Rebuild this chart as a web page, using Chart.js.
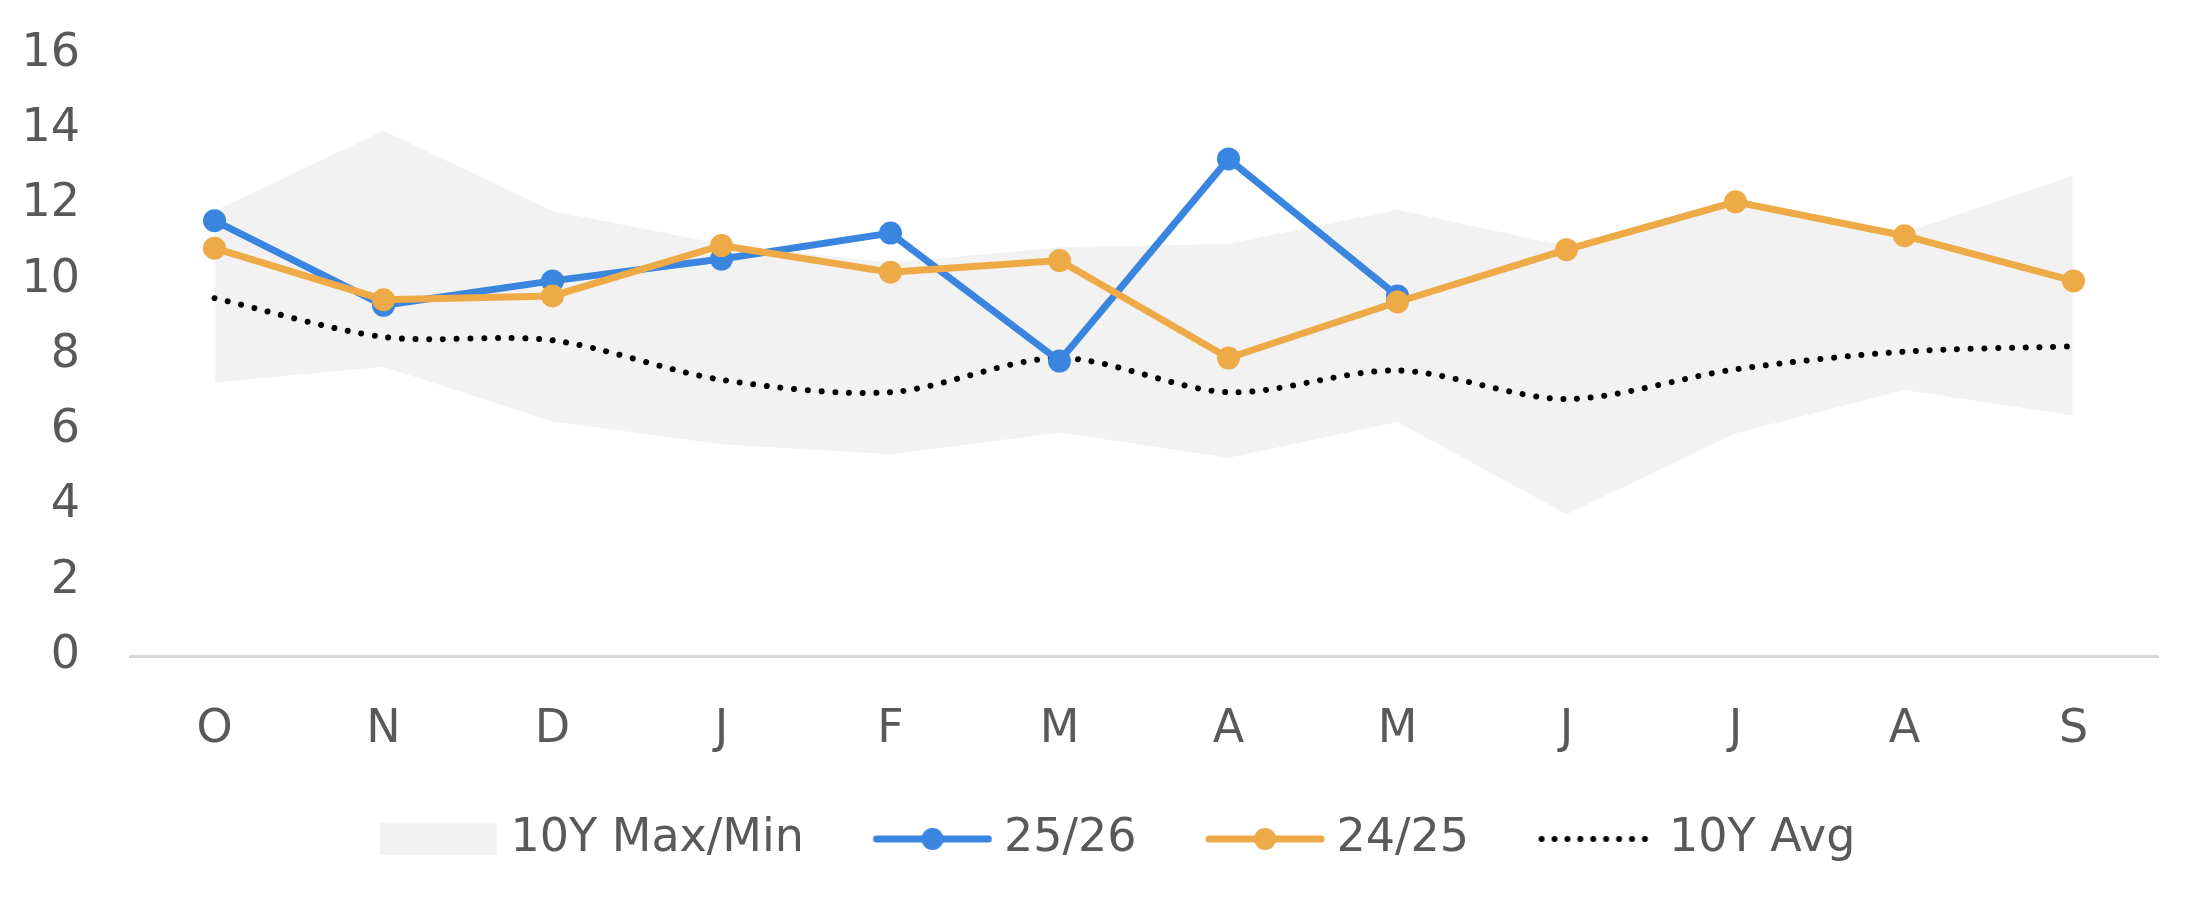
<!DOCTYPE html>
<html>
<head>
<meta charset="utf-8">
<title>10Y Max/Min chart</title>
<script src="https://cdn.jsdelivr.net/npm/chart.js@4.4.1/dist/chart.umd.min.js"></script>
<style>
    html, body { margin: 0; padding: 0; background: #ffffff; }
    #chart { display: block; }
</style>
</head>
<body>
<canvas id="chart" width="2208" height="909"></canvas>
<script>
// Monthly values, Oct -> Sep
const months = ['O', 'N', 'D', 'J', 'F', 'M', 'A', 'M', 'J', 'J', 'A', 'S'];
const bandMax = [11.83, 13.96, 11.83, 10.95, 10.45, 10.86, 10.96, 11.86, 10.89, 12.05, 11.25, 12.77];
const bandMin = [7.27, 7.69, 6.23, 5.63, 5.36, 5.94, 5.27, 6.22, 3.77, 5.92, 7.07, 6.39];
const season2526 = [11.57, 9.32, 9.97, 10.55, 11.24, 7.84, 13.21, 9.57, null, null, null, null];
const season2425 = [10.84, 9.47, 9.57, 10.91, 10.20, 10.51, 7.92, 9.41, 10.80, 12.07, 11.17, 9.97];
const avg10y = [9.51, 8.48, 8.39, 7.34, 7.01, 7.92, 7.01, 7.59, 6.83, 7.62, 8.09, 8.23];
const yTicks = [0, 2, 4, 6, 8, 10, 12, 14, 16];

const BLUE = '#3a85df';
const ORANGE = '#eeaa46';
const BAND = '#f2f2f2';
const TEXT = '#595959';
const FONT = { family: 'DejaVu Sans', size: 46 };

// Legend icons: canvases used as point styles.
// The drawn part sits on the right side so it hugs the label text.
function makeIcon(draw) {
    const c = document.createElement('canvas');
    c.width = 180;
    c.height = 34;
    const ctx = c.getContext('2d');
    ctx.translate(60, 0);
    draw(ctx, 120, c.height);
    return c;
}

const bandIcon = makeIcon((ctx, w, h) => {
    ctx.fillStyle = BAND;
    ctx.fillRect(1, 1, w - 3, h - 2);
});

function lineIcon(color) {
    return makeIcon((ctx, w, h) => {
        ctx.strokeStyle = color;
        ctx.lineWidth = 7;
        ctx.lineCap = 'round';
        ctx.beginPath();
        ctx.moveTo(4, h / 2);
        ctx.lineTo(w - 4, h / 2);
        ctx.stroke();
        ctx.fillStyle = color;
        ctx.beginPath();
        ctx.arc(w / 2, h / 2, 11, 0, Math.PI * 2);
        ctx.fill();
    });
}

const dotIcon = makeIcon((ctx, w, h) => {
    ctx.strokeStyle = '#000';
    ctx.lineWidth = 6;
    ctx.lineCap = 'round';
    ctx.setLineDash([0.01, 12.9]);
    ctx.beginPath();
    ctx.moveTo(4, h / 2);
    ctx.lineTo(w - 2, h / 2);
    ctx.stroke();
});

const legendIcons = [bandIcon, null, lineIcon(BLUE), lineIcon(ORANGE), dotIcon];

function buildDatasets() {
    return [
        {
            label: '10Y Max/Min',
            data: bandMax,
            borderWidth: 0,
            pointRadius: 0,
            backgroundColor: BAND,
            fill: '+1',
            tension: 0,
            order: 5
        },
        {
            label: '',
            data: bandMin,
            borderWidth: 0,
            pointRadius: 0,
            fill: false,
            tension: 0,
            order: 5
        },
        {
            label: '25/26',
            data: season2526,
            borderColor: BLUE,
            backgroundColor: BLUE,
            borderWidth: 7,
            pointRadius: 11.5,
            pointBorderWidth: 0,
            fill: false,
            tension: 0,
            order: 2
        },
        {
            label: '24/25',
            data: season2425,
            borderColor: ORANGE,
            backgroundColor: ORANGE,
            borderWidth: 7,
            pointRadius: 11.5,
            pointBorderWidth: 0,
            fill: false,
            tension: 0,
            order: 1
        },
        {
            label: '10Y Avg',
            data: avg10y,
            borderColor: '#000000',
            borderWidth: 6,
            borderDash: [0.01, 13.7],
            borderCapStyle: 'round',
            pointRadius: 0,
            fill: false,
            tension: 0.3,
            order: 3
        }
    ];
}

// keep the axes from pushing the plot area around
function noPadding(scale) {
    scale.paddingTop = 0;
    scale.paddingBottom = 0;
    scale.paddingLeft = 0;
    scale.paddingRight = 0;
}

function renderChart() {
    new Chart(document.getElementById('chart'), {
        type: 'line',
        data: { labels: months, datasets: buildDatasets() },
        options: {
            responsive: false,
            animation: false,
            events: [],
            layout: { padding: { top: 54, right: 22, bottom: 37, left: 0 } },
            scales: {
                x: {
                    offset: true,
                    grid: { display: false, drawTicks: false },
                    border: { display: true, color: '#d9d9d9', width: 3 },
                    ticks: { color: TEXT, font: FONT, padding: 46, maxRotation: 0 },
                    afterFit: scale => { noPadding(scale); scale.height = 140; }
                },
                y: {
                    min: 0,
                    max: 16,
                    afterBuildTicks: scale => { scale.ticks = yTicks.map(v => ({ value: v })); },
                    grid: { display: false, drawTicks: false },
                    border: { display: false },
                    ticks: { color: TEXT, font: FONT, padding: 50 },
                    afterFit: scale => { noPadding(scale); scale.width = 130; }
                },
                yRight: {
                    position: 'right',
                    grid: { display: false, drawTicks: false },
                    border: { display: false },
                    ticks: { display: false },
                    afterFit: scale => { noPadding(scale); scale.width = 28; }
                }
            },
            plugins: {
                tooltip: { enabled: false },
                legend: {
                    position: 'bottom',
                    labels: {
                        color: TEXT,
                        font: FONT,
                        usePointStyle: true,
                        pointStyleWidth: 157,
                        padding: 20,
                        generateLabels: chart => chart.data.datasets
                            .map((ds, i) => ({
                                text: ds.label,
                                pointStyle: legendIcons[i],
                                datasetIndex: i,
                                fontColor: TEXT,
                                fillStyle: 'transparent',
                                strokeStyle: 'transparent',
                                lineWidth: 0,
                                hidden: false
                            }))
                            .filter(item => item.text !== '')
                    }
                }
            }
        }
    });
}

window.addEventListener('DOMContentLoaded', renderChart);
</script>
</body>
</html>
